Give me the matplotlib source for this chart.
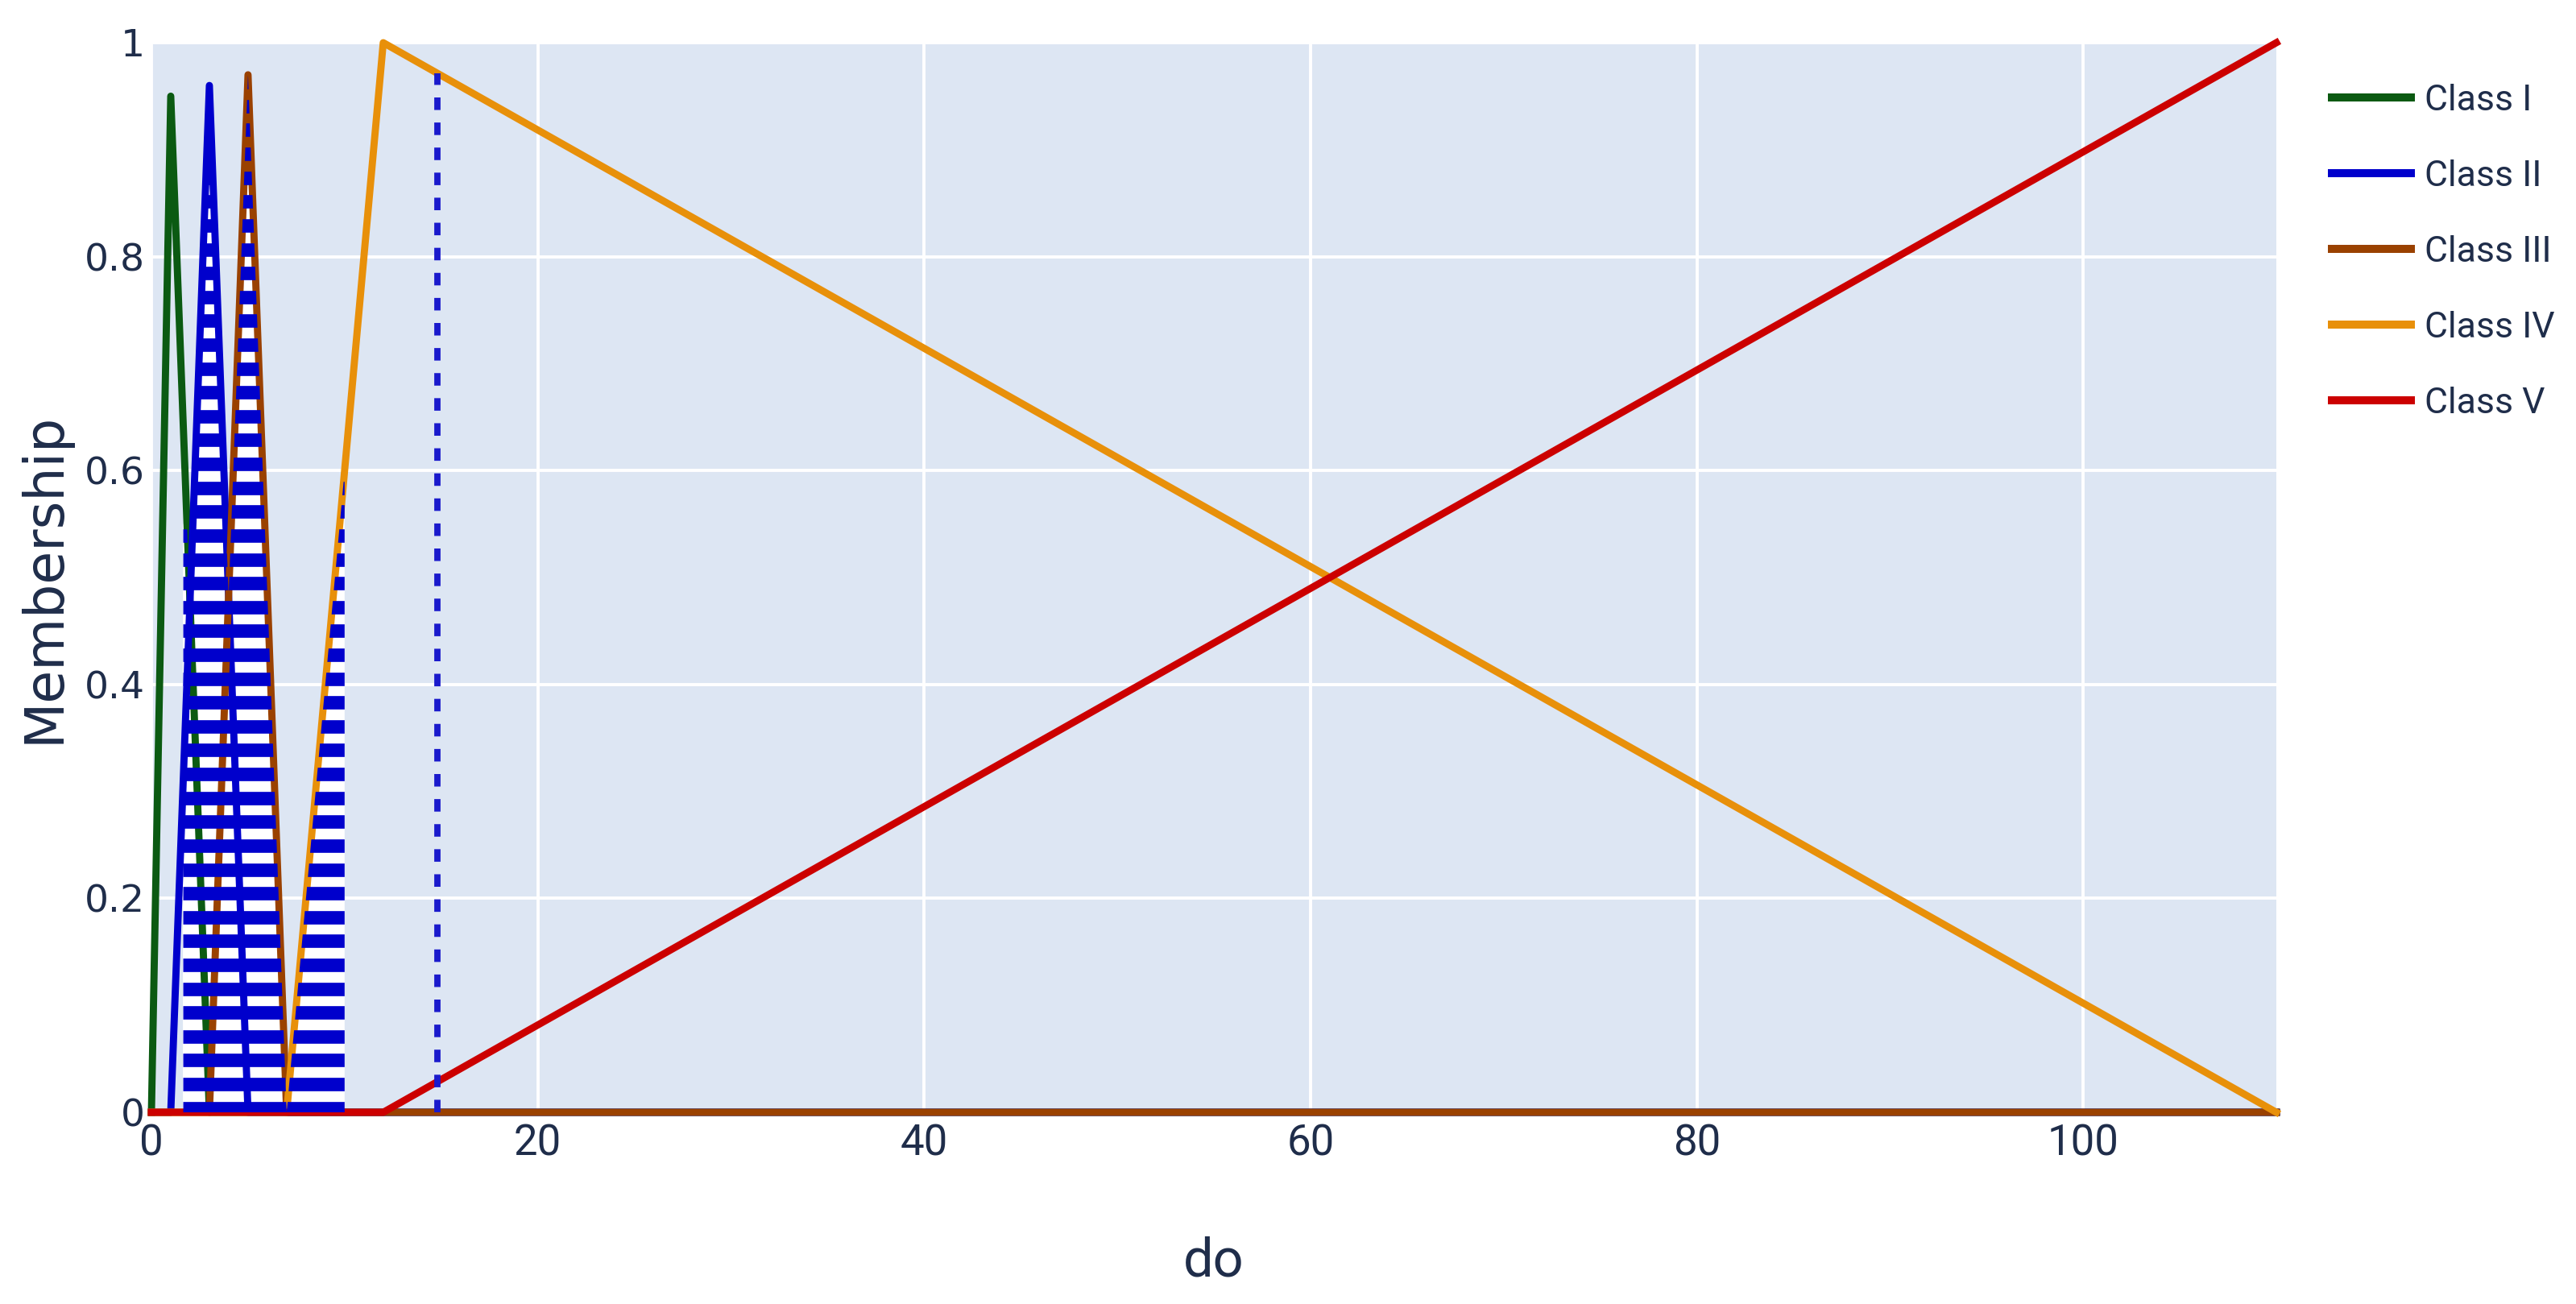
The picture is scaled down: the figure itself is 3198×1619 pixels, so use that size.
import numpy as np
import matplotlib.pyplot as plt
from matplotlib.patches import Polygon

# membership functions, breakpoints
do_I = [0, 1, 3, 110]
mu_I = [0, 0.95, 0, 0]
do_II = [0, 1, 3, 5, 110]
mu_II = [0, 0, 0.96, 0, 0]
do_III = [0, 3, 5, 7, 110]
mu_III = [0, 0, 0.97, 0, 0]
do_IV = [0, 7, 12, 110]
mu_IV = [0, 0, 1, 0]
do_V = [0, 12, 110]
mu_V = [0, 0, 1]

labels = ["Class I", "Class II", "Class III", "Class IV", "Class V"]
colors = ["#0b5a12", "#0000cc", "#9a4100", "#e8900a", "#cc0000"]

# hatched (aggregated) region and the observed input
agg_lo, agg_hi = 1.63, 10.0
cut_I = 0.55
obs_do = 14.8

x_ticks = [0, 20, 40, 60, 80, 100]
y_ticks = [0, 0.2, 0.4, 0.6, 0.8, 1]
y_ticklabels = ["0", "0.2", "0.4", "0.6", "0.8", "1"]

BG = "#dde6f3"
TXT = "#1f2d4a"
HATCH = "#0000cc"
NARROW = ["Roboto", "DejaVu Sans"]

W, H = 3198, 1619
fig = plt.figure(figsize=(W / 200, H / 200), dpi=200)
ax = fig.add_axes([188 / W, 1 - 1381 / H, (2826 - 188) / W, (1381 - 53) / H])
ax.set_facecolor(BG)
ax.set_xlim(0, 110)
ax.set_ylim(0, 1)
for s in ax.spines.values():
    s.set_visible(False)
ax.grid(color="white", lw=1.4)
ax.set_axisbelow(True)
ax.set_xticks(x_ticks)
ax.set_yticks(y_ticks, y_ticklabels)
ax.tick_params(length=0)
ax.tick_params(axis="x", pad=5, labelsize=19, labelcolor=TXT)
ax.tick_params(axis="y", pad=3, labelsize=17, labelcolor=TXT)
for t in ax.get_xticklabels():
    t.set_family(NARROW)

# white backing of the hatched region (sits under the curves)
xs = np.linspace(agg_lo, agg_hi, 3000)
h = np.maximum.reduce([
    np.minimum(np.interp(xs, do_I, mu_I), cut_I),
    np.interp(xs, do_II, mu_II),
    np.interp(xs, do_III, mu_III),
    np.interp(xs, do_IV, mu_IV),
])
verts = np.column_stack([np.r_[xs, xs[::-1]], np.r_[h, np.zeros_like(h)]])
region = Polygon(verts, closed=True, facecolor="white", edgecolor="none",
                 zorder=1.5)
ax.add_patch(region)

curves = [(do_I, mu_I), (do_II, mu_II), (do_III, mu_III), (do_IV, mu_IV),
          (do_V, mu_V)]
for (xd, yd), c, lab in zip(curves, colors, labels):
    ax.plot(xd, yd, color=c, lw=3.2, label=lab, zorder=2, clip_on=False)

# horizontal stripe pattern, clipped to the region
levels = np.arange(0.004, 1.0, 0.0223)
stripes = ax.hlines(levels, agg_lo, agg_hi, colors=HATCH, lw=6.0, zorder=3)
stripes.set_capstyle("butt")
stripes.set_clip_path(region)

ax.plot([obs_do, obs_do], [0, np.interp(obs_do, do_IV, mu_IV)],
        color="#1a1acc", lw=2.8, dashes=(2.0, 2.0), zorder=3)

ax.set_xlabel("do", fontsize=24, color=TXT, family=NARROW)
ax.xaxis.set_label_coords(0.5, (1381 - 1566) / 1328)
ax.xaxis.label.set_va("center")
ax.set_ylabel("Membership", fontsize=24, color=TXT)
ax.yaxis.set_label_coords((55 - 188) / 2638, 0.5)
ax.yaxis.label.set_va("center")

leg = ax.legend(loc="upper left", bbox_to_anchor=(2895 / W, 1 - 104 / H),
                bbox_transform=fig.transFigure, frameon=False,
                prop={"family": NARROW, "size": 16}, handlelength=2.2,
                handletextpad=0.38, labelspacing=1.17, borderpad=0,
                borderaxespad=0)
for t in leg.get_texts():
    t.set_color(TXT)
for ln in leg.get_lines():
    ln.set_linewidth(3.6)

fig.savefig("out.png", dpi=200)
